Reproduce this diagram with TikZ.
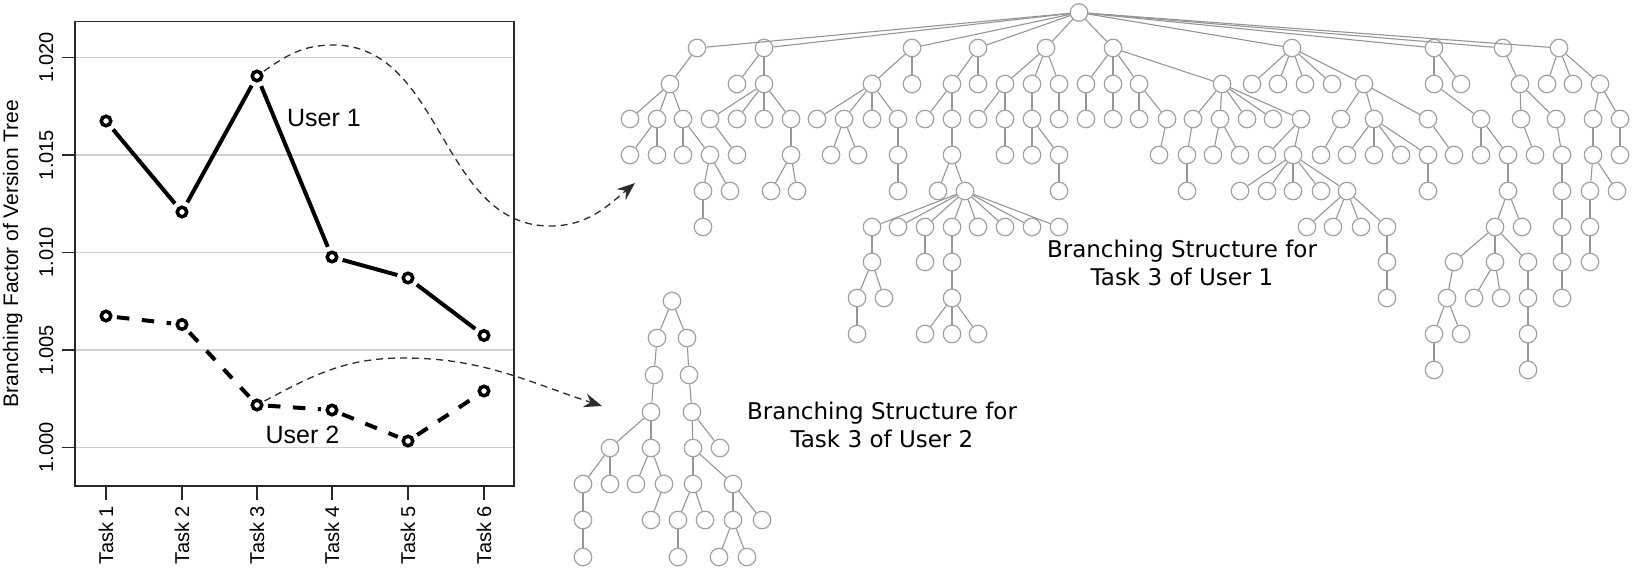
\documentclass[tikz,border=0pt]{standalone}
\usepackage{fontspec}
\setmainfont{Liberation Sans}
\newfontfamily\treefont{DejaVu Sans}
\usetikzlibrary{arrows.meta}
\definecolor{gridc}{RGB}{208,208,208}
\definecolor{treec}{RGB}{160,160,160}
\definecolor{edgec}{RGB}{150,150,150}
\definecolor{arrc}{RGB}{45,45,45}
\definecolor{boxc}{RGB}{40,40,40}
\newcommand\axfont{\fontsize{20}{24}\selectfont}
\newcommand\ylabfont{\fontsize{21}{25}\selectfont}
\newcommand\usrfont{\fontsize{25}{30}\selectfont}
\newcommand\trlabfont{\treefont\fontsize{23}{27.5}\selectfont}
\newcommand\mkrow[3]{\foreach \xx in {#3}{\node[tn] (#1x\xx) at (\xx,#2) {};}}
\newcommand\mkkids[3]{\foreach \cc in {#3}{\draw[te] (#1) -- (#2x\cc);}}
\begin{document}
\begin{tikzpicture}[x=1pt,y=-1pt,
  tn/.style={circle, draw=treec, line width=1.2pt, fill=white, minimum size=17.5pt, inner sep=0pt},
  te/.style={draw=edgec, line width=1.1pt},
  gridl/.style={draw=gridc, line width=1.5pt},
  boxl/.style={draw=boxc, line width=1.4pt},
  mk/.style={circle, draw=black, line width=3.5pt, minimum size=9.5pt, inner sep=0pt},
  u1line/.style={line width=4pt, shorten <=4.5pt, shorten >=4.5pt},
  u2line/.style={u1line, dash pattern=on 12.5pt off 12.5pt},
  zoomarrow/.style={draw=arrc, line width=1.3pt, dash pattern=on 7pt off 5pt, shorten <=2pt,
    -{Stealth[length=18pt,width=14pt,inset=6pt]}},
  ticklab/.style={rotate=90, anchor=base, font=\axfont, inner sep=0pt},
  tasklab/.style={rotate=90, anchor=base east, font=\axfont, inner sep=0pt}
]
\useasboundingbox (0,0) rectangle (1632,572);
\fill[white] (0,0) rectangle (1632,572);

% ---------- chart ----------
\foreach \yy in {57.5,155,252.5,350,447.5} \draw[gridl] (75,\yy) -- (514,\yy);
\draw[boxl] (75,21.3) rectangle (514,485.8);
\foreach \yy in {57.5,155,252.5,350,447.5} \draw[boxl] (75,\yy) -- (62,\yy);
\foreach \xx in {106,182,257,332,408,484} \draw[boxl] (\xx,485.8) -- (\xx,500);

\node[ticklab] (yt1) at (53,57.5) {1.020};
\node[ticklab] (yt2) at (53,155) {1.015};
\node[ticklab] (yt3) at (53,252.5) {1.010};
\node[ticklab] (yt4) at (53,350) {1.005};
\node[ticklab] (yt5) at (53,447.5) {1.000};

\foreach \xx [count=\i] in {106,182,257,332,408,484}
  \node[tasklab] (task\i) at (\xx+7,506) {Task \i};

\node[rotate=90, anchor=base, font=\ylabfont, inner sep=0pt] (ylab) at (18,253.5) {Branching Factor of Version Tree};

% user 1
\node[mk] (u1p1) at (106,121) {};
\node[mk] (u1p2) at (182,212) {};
\node[mk] (u1p3) at (257,76) {};
\node[mk] (u1p4) at (332,257) {};
\node[mk] (u1p5) at (408,278) {};
\node[mk] (u1p6) at (484,335.5) {};
\draw[u1line] (u1p1) -- (u1p2);
\draw[u1line] (u1p2) -- (u1p3);
\draw[u1line] (u1p3) -- (u1p4);
\draw[u1line] (u1p4) -- (u1p5);
\draw[u1line] (u1p5) -- (u1p6);
% user 2
\node[mk] (u2p1) at (106,316) {};
\node[mk] (u2p2) at (182,324.5) {};
\node[mk] (u2p3) at (257,405) {};
\node[mk] (u2p4) at (332,410) {};
\node[mk] (u2p5) at (408,441) {};
\node[mk] (u2p6) at (484,391) {};
\draw[u2line] (u2p1) -- (u2p2);
\draw[u2line] (u2p2) -- (u2p3);
\draw[u2line] (u2p3) -- (u2p4);
\draw[u2line] (u2p4) -- (u2p5);
\draw[u2line] (u2p5) -- (u2p6);

\node[anchor=base, font=\usrfont, inner sep=0pt] (lab1) at (324,126.5) {User 1};
\node[anchor=base, font=\usrfont, inner sep=0pt] (lab2) at (302.5,443) {User 2};

% zoom arrows
\coordinate (a1peak) at (333,45);
\coordinate (a1low) at (550,226);
\coordinate (a1tip) at (635,183);
\draw[zoomarrow] (u1p3) to[out=35,in=180] (a1peak) to[out=0,in=180] (a1low) to[out=0,in=220] (a1tip);
\coordinate (a2peak) at (403,358);
\coordinate (a2tip) at (602,406);
\draw[zoomarrow] (u2p3) to[out=28,in=180] (a2peak) to[out=0,in=162] (a2tip);

% ---------- tree of user 1 ----------
\mkrow{A0}{12.5}{1079}
\mkrow{A1}{48}{697,764,912,978,1046,1113,1292,1434,1503,1559}
\mkrow{A2}{84}{670,737,764,872,912,952,978,1005,1032,1059,1086,1113,1139,1222,1252,1278,1305,1332,1364,1434,1461,1520,1547,1573,1600}
\mkrow{A3}{119}{630,657,683,710,737,764,791,817,844,872,898,925,952,978,1005,1032,1059,1086,1113,1139,1167,1193,1220,1247,1273,1301,1341,1374,1428,1481,1521,1556,1593,1620}
\mkrow{A4}{155}{630,657,683,710,737,791,831,858,898,952,1005,1032,1059,1159,1187,1213,1240,1267,1293,1321,1347,1374,1401,1428,1454,1481,1508,1535,1562,1593,1620}
\mkrow{A5}{191}{703,730,771,797,898,938,965,1059,1187,1240,1267,1293,1321,1347,1428,1508,1562,1590,1617}
\mkrow{A6}{227}{703,872,898,925,952,978,1005,1032,1059,1307,1333,1361,1387,1495,1522,1562,1590}
\mkrow{A7}{262}{872,925,952,1387,1454,1495,1528,1562,1590}
\mkrow{A8}{298}{857,884,952,1387,1447,1474,1501,1528,1562}
\mkrow{A9}{334}{857,925,952,978,1434,1461,1528}
\mkrow{A10}{370}{1434,1528}

\mkkids{A0x1079}{A1}{697,764,912,978,1046,1113,1292,1434,1503,1559}
\mkkids{A1x697}{A2}{670}
\mkkids{A1x764}{A2}{737,764}
\mkkids{A1x912}{A2}{872,912}
\mkkids{A1x978}{A2}{952,978}
\mkkids{A1x1046}{A2}{1005,1032,1059}
\mkkids{A1x1113}{A2}{1086,1113,1139,1222}
\mkkids{A1x1292}{A2}{1252,1278,1305,1332,1364}
\mkkids{A1x1434}{A2}{1434,1461}
\mkkids{A1x1503}{A2}{1520}
\mkkids{A1x1559}{A2}{1547,1573,1600}
\mkkids{A2x670}{A3}{630,657,683}
\mkkids{A2x764}{A3}{710,737,764,791}
\mkkids{A2x872}{A3}{817,844,872,898}
\mkkids{A2x952}{A3}{925,952}
\mkkids{A2x1005}{A3}{978,1005}
\mkkids{A2x1032}{A3}{1032}
\mkkids{A2x1059}{A3}{1059}
\mkkids{A2x1086}{A3}{1086}
\mkkids{A2x1113}{A3}{1113}
\mkkids{A2x1139}{A3}{1139,1167}
\mkkids{A2x1222}{A3}{1193,1220,1247,1273,1301}
\mkkids{A2x1364}{A3}{1341,1374,1428}
\mkkids{A2x1434}{A3}{1481}
\mkkids{A2x1520}{A3}{1521,1556}
\mkkids{A2x1600}{A3}{1593,1620}
\mkkids{A3x657}{A4}{630,657}
\mkkids{A3x683}{A4}{683,710}
\mkkids{A3x710}{A4}{737}
\mkkids{A3x791}{A4}{791}
\mkkids{A3x844}{A4}{831,858}
\mkkids{A3x898}{A4}{898}
\mkkids{A3x952}{A4}{952}
\mkkids{A3x1005}{A4}{1005}
\mkkids{A3x1032}{A4}{1032,1059}
\mkkids{A3x1167}{A4}{1159}
\mkkids{A3x1193}{A4}{1187}
\mkkids{A3x1220}{A4}{1213,1240}
\mkkids{A3x1301}{A4}{1267,1293}
\mkkids{A3x1341}{A4}{1321}
\mkkids{A3x1374}{A4}{1347,1374,1401,1428}
\mkkids{A3x1428}{A4}{1454}
\mkkids{A3x1481}{A4}{1481,1508}
\mkkids{A3x1521}{A4}{1535}
\mkkids{A3x1556}{A4}{1562}
\mkkids{A3x1593}{A4}{1593}
\mkkids{A3x1620}{A4}{1620}
\mkkids{A4x710}{A5}{703,730}
\mkkids{A4x791}{A5}{771,797}
\mkkids{A4x898}{A5}{898}
\mkkids{A4x952}{A5}{938,965}
\mkkids{A4x1059}{A5}{1059}
\mkkids{A4x1187}{A5}{1187}
\mkkids{A4x1293}{A5}{1240,1267,1293,1321,1347}
\mkkids{A4x1428}{A5}{1428}
\mkkids{A4x1508}{A5}{1508}
\mkkids{A4x1562}{A5}{1562}
\mkkids{A4x1593}{A5}{1590,1617}
\mkkids{A5x703}{A6}{703}
\mkkids{A5x965}{A6}{872,898,925,952,978,1005,1032,1059}
\mkkids{A5x1347}{A6}{1307,1333,1361,1387}
\mkkids{A5x1508}{A6}{1495,1522}
\mkkids{A5x1562}{A6}{1562}
\mkkids{A5x1590}{A6}{1590}
\mkkids{A6x872}{A7}{872}
\mkkids{A6x925}{A7}{925}
\mkkids{A6x952}{A7}{952}
\mkkids{A6x1387}{A7}{1387}
\mkkids{A6x1495}{A7}{1454,1495,1528}
\mkkids{A6x1562}{A7}{1562}
\mkkids{A6x1590}{A7}{1590}
\mkkids{A7x872}{A8}{857,884}
\mkkids{A7x952}{A8}{952}
\mkkids{A7x1387}{A8}{1387}
\mkkids{A7x1454}{A8}{1447}
\mkkids{A7x1495}{A8}{1474,1501}
\mkkids{A7x1528}{A8}{1528}
\mkkids{A7x1562}{A8}{1562}
\mkkids{A8x857}{A9}{857}
\mkkids{A8x952}{A9}{925,952,978}
\mkkids{A8x1447}{A9}{1434,1461}
\mkkids{A8x1528}{A9}{1528}
\mkkids{A9x1434}{A10}{1434}
\mkkids{A9x1528}{A10}{1528}

% ---------- tree of user 2 ----------
\mkrow{B0}{301}{672}
\mkrow{B1}{338}{657,687}
\mkrow{B2}{375}{654,689}
\mkrow{B3}{412}{651,692}
\mkrow{B4}{448}{610,651,693,720}
\mkrow{B5}{484}{583,610,636,664,693,733}
\mkrow{B6}{520}{583,651,678,705,733,762}
\mkrow{B7}{557}{583,678,719,747}

\mkkids{B0x672}{B1}{657,687}
\mkkids{B1x657}{B2}{654}
\mkkids{B1x687}{B2}{689}
\mkkids{B2x654}{B3}{651}
\mkkids{B2x689}{B3}{692}
\mkkids{B3x651}{B4}{610,651}
\mkkids{B3x692}{B4}{693,720}
\mkkids{B4x610}{B5}{583,610}
\mkkids{B4x651}{B5}{636,664}
\mkkids{B4x693}{B5}{693,733}
\mkkids{B5x583}{B6}{583}
\mkkids{B5x664}{B6}{651}
\mkkids{B5x693}{B6}{678,705}
\mkkids{B5x733}{B6}{733,762}
\mkkids{B6x583}{B7}{583}
\mkkids{B6x678}{B7}{678}
\mkkids{B6x733}{B7}{719,747}

% ---------- tree labels ----------
\node[anchor=base, align=center, font=\trlabfont, inner sep=0pt] (t1lab) at (1182,285) {Branching Structure for\\Task 3 of User 1};
\node[anchor=base, align=center, font=\trlabfont, inner sep=0pt] (t2lab) at (882,447.3) {Branching Structure for\\Task 3 of User 2};
\end{tikzpicture}
\end{document}
